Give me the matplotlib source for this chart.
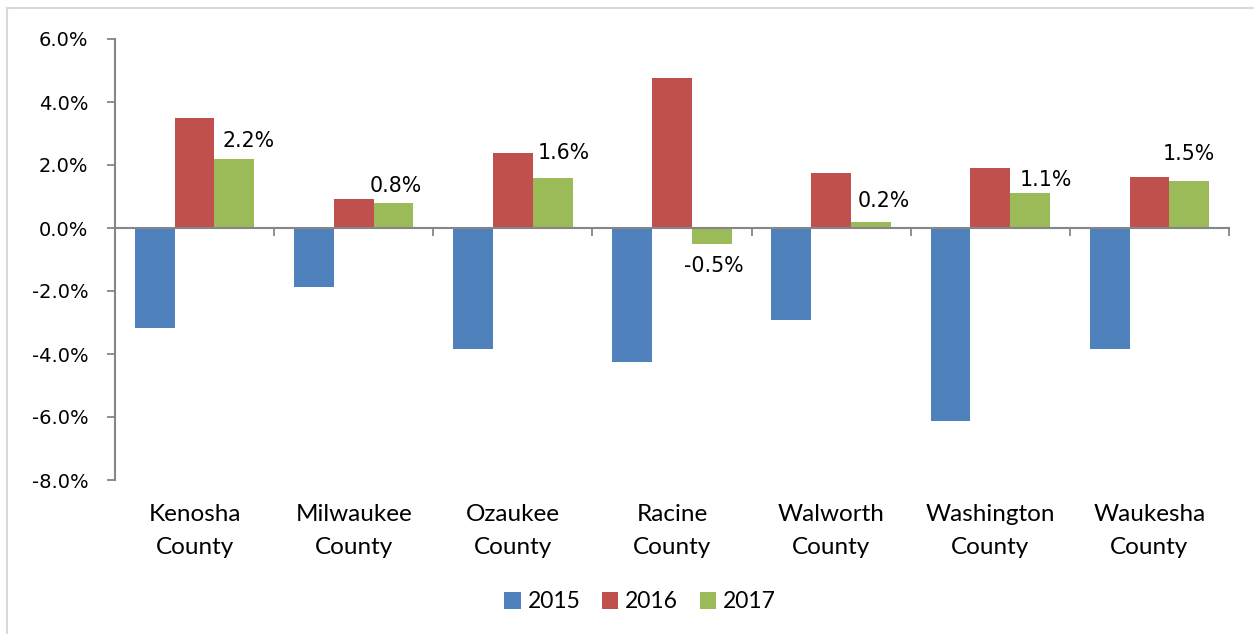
import matplotlib
matplotlib.use("Agg")
import matplotlib.pyplot as plt
from matplotlib.lines import Line2D
from matplotlib.patches import Patch
import numpy as np

# ---- data ----
categories = ["Kenosha\nCounty", "Milwaukee\nCounty", "Ozaukee\nCounty", "Racine\nCounty",
              "Walworth\nCounty", "Washington\nCounty", "Waukesha\nCounty"]
years = ["2015", "2016", "2017"]
v2015 = [-3.17, -1.86, -3.84, -4.26, -2.93, -6.14, -3.85]
v2016 = [3.49, 0.91, 2.38, 4.75, 1.74, 1.92, 1.62]
v2017 = [2.2, 0.8, 1.6, -0.5, 0.2, 1.1, 1.5]
labels2017 = ["2.2%", "0.8%", "1.6%", "-0.5%", "0.2%", "1.1%", "1.5%"]
yticks = [-8, -6, -4, -2, 0, 2, 4, 6]

# label offsets (pixels) for the 2017 data labels
label_dx = [14, 2, 11, 2, 13, 16, 0]
label_dy = [18, 17, 25, -22, 21, 13, 27]

colors = ["#4F81BD", "#C0504D", "#9BBB59"]
axis_gray = "#868686"

W, H = 1254, 634
fig = plt.figure(figsize=(W / 100, H / 100), dpi=100)
ax = fig.add_axes([115 / W, 1 - 480 / H, (1229 - 115) / W, (480 - 39) / H])

x = np.arange(len(categories))
bw = 0.25
series = [v2015, v2016, v2017]
for i, (vals, c) in enumerate(zip(series, colors)):
    ax.bar(x + (i - 1) * bw, vals, width=bw, color=c, edgecolor="none", zorder=2)

ax.set_xlim(-0.5, len(categories) - 0.5)
ax.set_ylim(-8, 6)
ax.set_yticks(yticks)
ax.set_yticklabels([f"{t:.1f}%" for t in yticks], fontsize=14, family="DejaVu Sans")
ax.tick_params(axis="y", length=6, width=1.3, color=axis_gray, pad=13)

for s in ["top", "right"]:
    ax.spines[s].set_visible(False)
ax.spines["left"].set_color(axis_gray)
ax.spines["left"].set_linewidth(1.5)
ax.spines["bottom"].set_position(("data", 0))
ax.spines["bottom"].set_color(axis_gray)
ax.spines["bottom"].set_linewidth(1.5)
ax.spines["bottom"].set_zorder(3)
ax.set_xticks(np.arange(len(categories) + 1) - 0.5)
ax.set_xticklabels([])
ax.tick_params(axis="x", length=6, width=1.3, color=axis_gray, direction="out")

for xi, cat in zip(x, categories):
    ax.text(xi, -0.055, cat, transform=ax.get_xaxis_transform(), ha="center", va="top",
            fontsize=17.5, family="Lato", linespacing=1.68)

for xi, v, lab, dx, dy in zip(x, v2017, labels2017, label_dx, label_dy):
    ax.annotate(lab, (xi + bw, v), xytext=(dx * 0.72, dy * 0.72), textcoords="offset points",
                ha="center", va="center", fontsize=14.8, family="DejaVu Sans")

handles = [Patch(facecolor=c, edgecolor="none") for c in colors]
fig.legend(handles, years, loc="center", bbox_to_anchor=(640 / W, 1 - 602 / H), ncol=3,
           frameon=False, handlelength=0.7, handleheight=0.7, handletextpad=0.3,
           columnspacing=0.95, prop={"family": "Lato", "size": 16.5})

# chart-area border (top and left edges visible)
fig.add_artist(Line2D([7 / W, 1], [1 - 8 / H, 1 - 8 / H], color="#D9D9D9", lw=1.5))
fig.add_artist(Line2D([7 / W, 7 / W], [0, 1 - 8 / H], color="#D9D9D9", lw=1.5))

fig.savefig("out.png", dpi=100)
